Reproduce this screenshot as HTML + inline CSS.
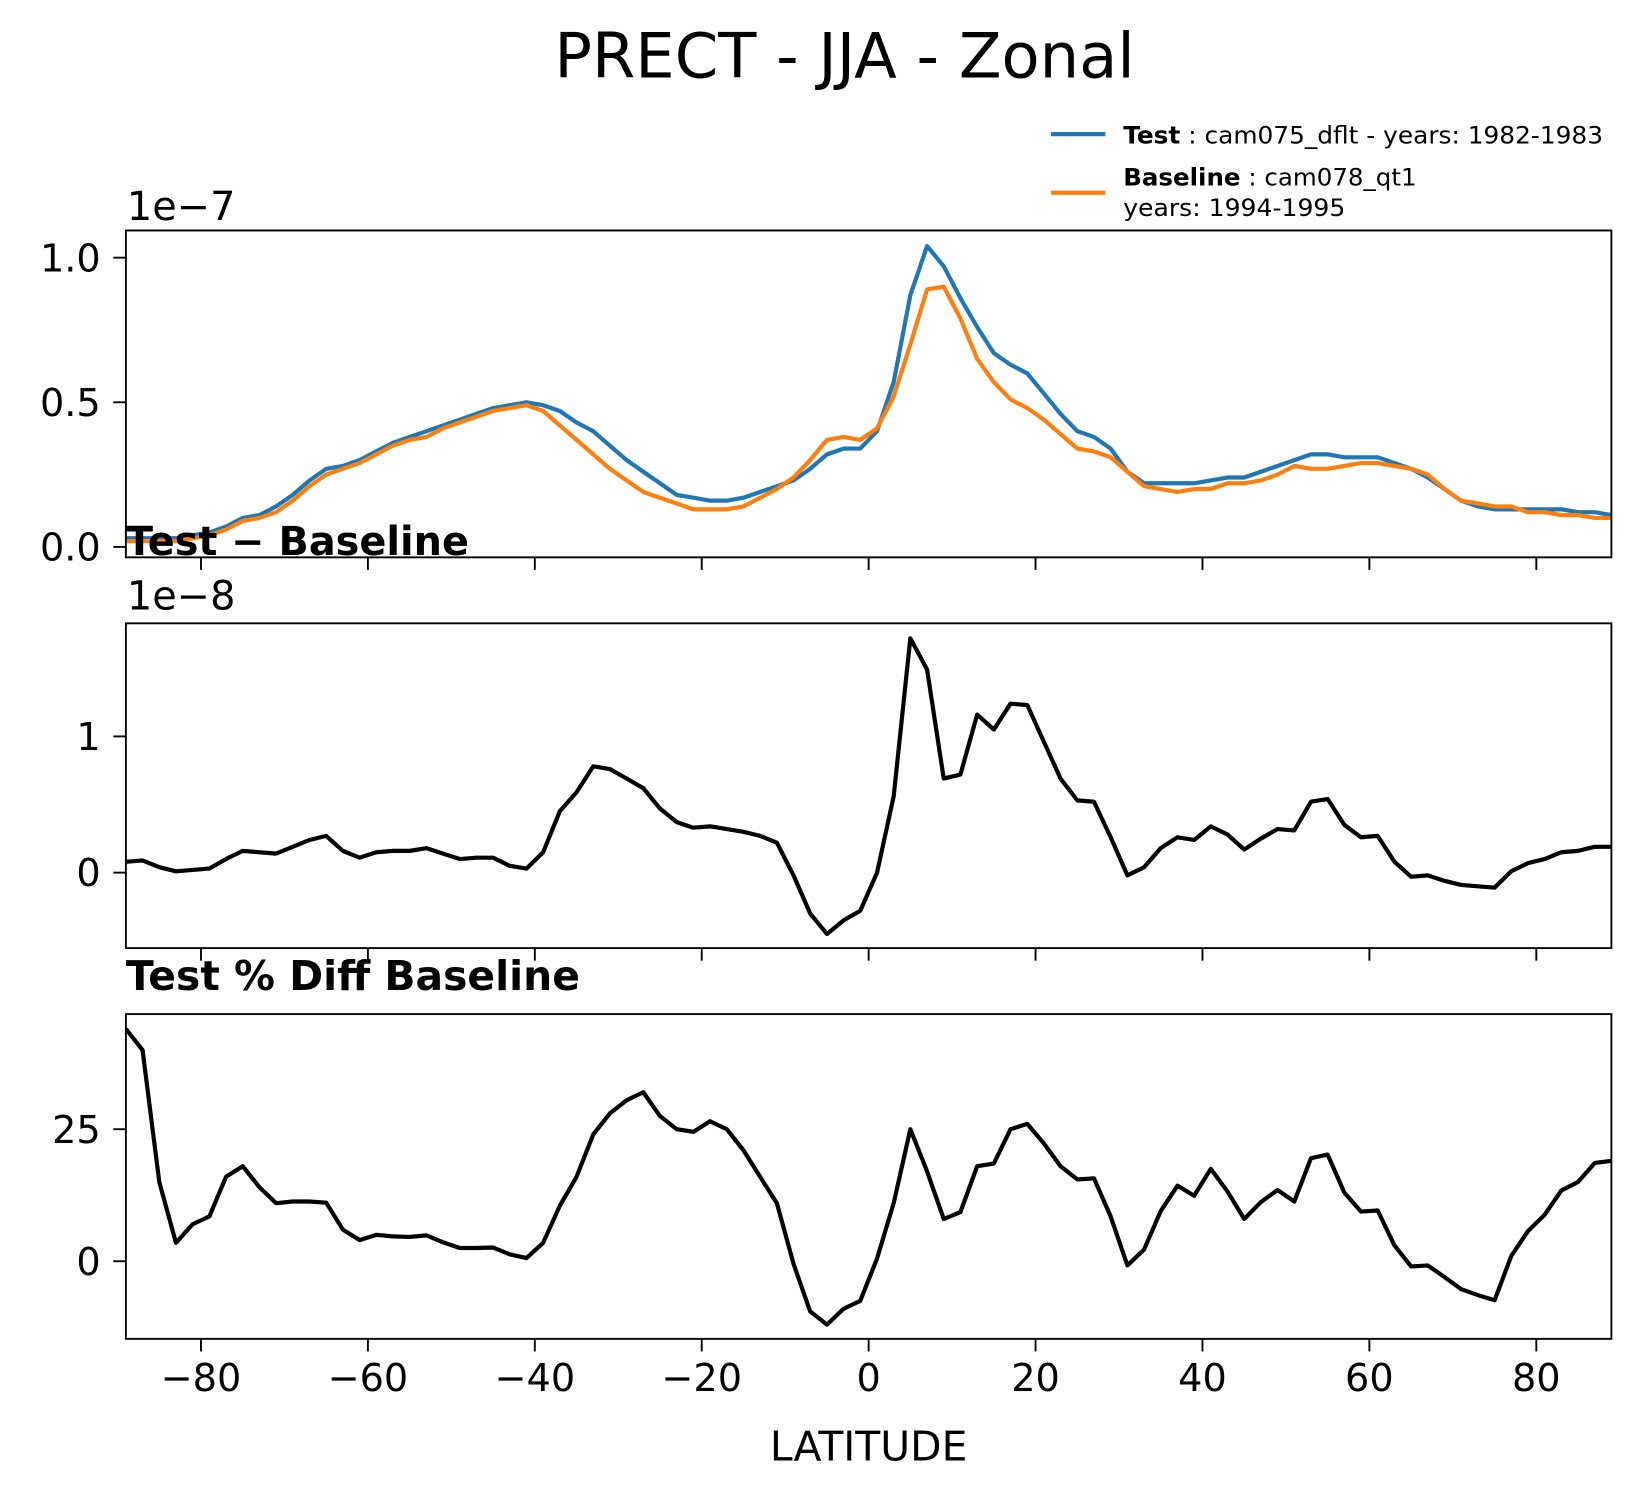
<!DOCTYPE html>
<html><head><meta charset="utf-8"><style>
html,body{margin:0;padding:0;background:#fff}
svg{display:block;font-family:"DejaVu Sans","Liberation Sans",sans-serif}
</style></head><body>
<svg id="fig" xmlns="http://www.w3.org/2000/svg" width="1643" height="1496" viewBox="0 0 1568 1428">
<rect width="1568" height="1428" fill="#fff"/>
<text x="806" y="74" font-size="59.5" text-anchor="middle">PRECT - JJA - Zonal</text>
<g>
<line x1="1003" y1="128" x2="1055" y2="128" stroke="#1f77b4" stroke-width="4"/>
<text x="1072" y="137" font-size="23" textLength="458" lengthAdjust="spacingAndGlyphs"><tspan font-weight="bold">Test</tspan> : cam075_dflt - years: 1982-1983</text>
<line x1="1003" y1="184" x2="1055" y2="184" stroke="#ff7f0e" stroke-width="4"/>
<text x="1072" y="177" font-size="23" textLength="280" lengthAdjust="spacingAndGlyphs"><tspan font-weight="bold">Baseline</tspan> : cam078_qt1</text>
<text x="1072" y="206" font-size="23" textLength="212" lengthAdjust="spacingAndGlyphs">years: 1994-1995</text>
</g>
<g id="plots"></g>
</svg>
<script>
const lats = [];
for (let i = 0; i < 90; i++) lats.push(-89 + 2 * i);
const testVals = [0.03,0.03,0.03,0.03,0.04,0.05,0.07,0.10,0.11,0.14,0.18,0.23,0.27,0.28,0.30,0.33,0.36,0.38,0.40,0.42,0.44,0.46,0.48,0.49,0.50,0.49,0.47,0.43,0.40,0.35,0.30,0.26,0.22,0.18,0.17,0.16,0.16,0.17,0.19,0.21,0.23,0.27,0.32,0.34,0.34,0.40,0.57,0.87,1.04,0.97,0.86,0.76,0.67,0.63,0.60,0.53,0.46,0.40,0.38,0.34,0.26,0.22,0.22,0.22,0.22,0.23,0.24,0.24,0.26,0.28,0.30,0.32,0.32,0.31,0.31,0.31,0.29,0.27,0.24,0.20,0.16,0.14,0.13,0.13,0.13,0.13,0.13,0.12,0.12,0.11];
const baseVals = [0.02,0.02,0.02,0.02,0.03,0.04,0.06,0.09,0.10,0.12,0.16,0.21,0.25,0.27,0.29,0.32,0.35,0.37,0.38,0.41,0.43,0.45,0.47,0.48,0.49,0.47,0.42,0.37,0.32,0.27,0.23,0.19,0.17,0.15,0.13,0.13,0.13,0.14,0.17,0.20,0.24,0.30,0.37,0.38,0.37,0.41,0.52,0.70,0.89,0.90,0.79,0.65,0.57,0.51,0.48,0.44,0.39,0.34,0.33,0.31,0.26,0.21,0.20,0.19,0.20,0.20,0.22,0.22,0.23,0.25,0.28,0.27,0.27,0.28,0.29,0.29,0.28,0.27,0.25,0.20,0.16,0.15,0.14,0.14,0.12,0.12,0.11,0.11,0.10,0.10];
const diffVals = [0.08,0.09,0.04,0.01,0.02,0.03,0.10,0.16,0.15,0.14,0.19,0.24,0.27,0.16,0.11,0.15,0.16,0.16,0.18,0.14,0.10,0.11,0.11,0.05,0.03,0.15,0.45,0.59,0.78,0.76,0.69,0.62,0.47,0.37,0.33,0.34,0.32,0.30,0.27,0.22,-0.02,-0.30,-0.45,-0.35,-0.28,0.00,0.56,1.72,1.49,0.69,0.72,1.16,1.05,1.24,1.23,0.96,0.69,0.53,0.52,0.26,-0.02,0.04,0.18,0.26,0.24,0.34,0.28,0.17,0.25,0.32,0.31,0.52,0.54,0.35,0.26,0.27,0.08,-0.03,-0.02,-0.06,-0.09,-0.10,-0.11,0.01,0.07,0.10,0.15,0.16,0.19,0.19];
const pctVals = [44,40,15,3.5,7,8.5,16,18,14,11,11.3,11.3,11.1,6,4,5,4.7,4.6,4.9,3.6,2.5,2.5,2.6,1.3,0.6,3.5,10.5,16,24,28,30.5,32,27.5,25,24.5,26.5,25,21,16,11,-0.5,-9.5,-12,-9,-7.5,0.5,11,25,17,8,9.3,18,18.5,25,26,22.3,18,15.5,15.7,8.5,-0.8,2.2,9.5,14.3,12.4,17.5,13.2,8,11.2,13.5,11.3,19.5,20.2,13,9.4,9.6,3,-1,-0.8,-3,-5.3,-6.4,-7.4,1,5.7,8.8,13.4,15,18.6,19];
const xTicks = [-80,-60,-40,-20,0,20,40,60,80];
const yTicks1 = [0.0,0.5,1.0];
const yTickLabels1 = ["0.0","0.5","1.0"];
const yTicks2 = [0,1];
const yTicks3 = [0,25];

const NS = "http://www.w3.org/2000/svg";
const root = document.getElementById('plots');
const L = 120, R = 1538;
const FS = 36.5;
const xs = v => L + (v + 89) / 178 * (R - L);
function mk(tag, attrs, parent) {
  const e = document.createElementNS(NS, tag);
  for (const k in attrs) e.setAttribute(k, attrs[k]);
  parent.appendChild(e);
  return e;
}
function panel(name, top, bot, ymin, ymax, yt, ytl, series, showXLabels) {
  const g = mk('g', {}, root);
  
  
  const ys = v => bot - (v - ymin) / (ymax - ymin) * (bot - top);
  const cp = 'clip-' + name;
  const defs = mk('defs', {}, g);
  const c = mk('clipPath', {id: cp}, defs);
  mk('rect', {x: L, y: top, width: R - L, height: bot - top}, c);
  series.forEach(s => {
    const d = lats.map((la, i) => (i ? 'L' : 'M') + xs(la).toFixed(1) + ',' + ys(s.vals[i]).toFixed(1)).join('');
    const p = mk('path', {d: d, fill: 'none', stroke: s.color, 'stroke-width': 4, 'stroke-linejoin': 'round', 'clip-path': 'url(#' + cp + ')'}, g);
    
    
  });
  const fr = mk('rect', {x: L, y: top, width: R - L, height: bot - top, fill: 'none', stroke: '#000', 'stroke-width': 1.8}, g);
  
  
  xTicks.forEach(t => {
    const tl = mk('line', {x1: xs(t), x2: xs(t), y1: bot, y2: bot + 12, stroke: '#000', 'stroke-width': 1.8}, g);
    
    
    if (showXLabels) {
      const tx = mk('text', {x: xs(t), y: bot + 50, 'font-size': FS, 'text-anchor': 'middle'}, g);
      tx.textContent = (t < 0 ? '\u2212' + (-t) : '' + t);
      
      
    }
  });
  yt.forEach((t, i) => {
    const tl = mk('line', {x1: L - 12, x2: L, y1: ys(t), y2: ys(t), stroke: '#000', 'stroke-width': 1.8}, g);
    
    
    const tx = mk('text', {x: L - 24, y: ys(t) + 13, 'font-size': FS, 'text-anchor': 'end'}, g);
    tx.textContent = ytl[i];
    
    
  });
}
panel('zonal-mean-panel', 220, 532, -0.036, 1.094, yTicks1, yTickLabels1, [
  {vals: testVals, color: '#1f77b4', name: 'test-line'},
  {vals: baseVals, color: '#ff7f0e', name: 'baseline-line'}], false);
panel('difference-panel', 595, 905, -0.554, 1.83, yTicks2, yTicks2.map(String), [
  {vals: diffVals, color: '#000', name: 'difference-line'}], false);
panel('percent-diff-panel', 968, 1278, -14.7, 46.8, yTicks3, yTicks3.map(String), [
  {vals: pctVals, color: '#000', name: 'percent-diff-line'}], true);

function txt(name, x, y, size, str, weight, anchor) {
  const t = mk('text', {x: x, y: y, 'font-size': size, 'font-weight': weight || 'normal', 'text-anchor': anchor || 'start'}, root);
  t.textContent = str;
  
  
}
txt('offset-label-1e-7', 121, 210, 38, '1e\u22127');
txt('offset-label-1e-8', 121, 582, 38, '1e\u22128');
txt('difference-title', 120, 530, 38, 'Test \u2212 Baseline', 'bold');
txt('percent-diff-title', 120, 945, 39, 'Test % Diff Baseline', 'bold');
txt('x-axis-title', 829, 1394, 39, 'LATITUDE', 'normal', 'middle');
</script>
</body></html>
